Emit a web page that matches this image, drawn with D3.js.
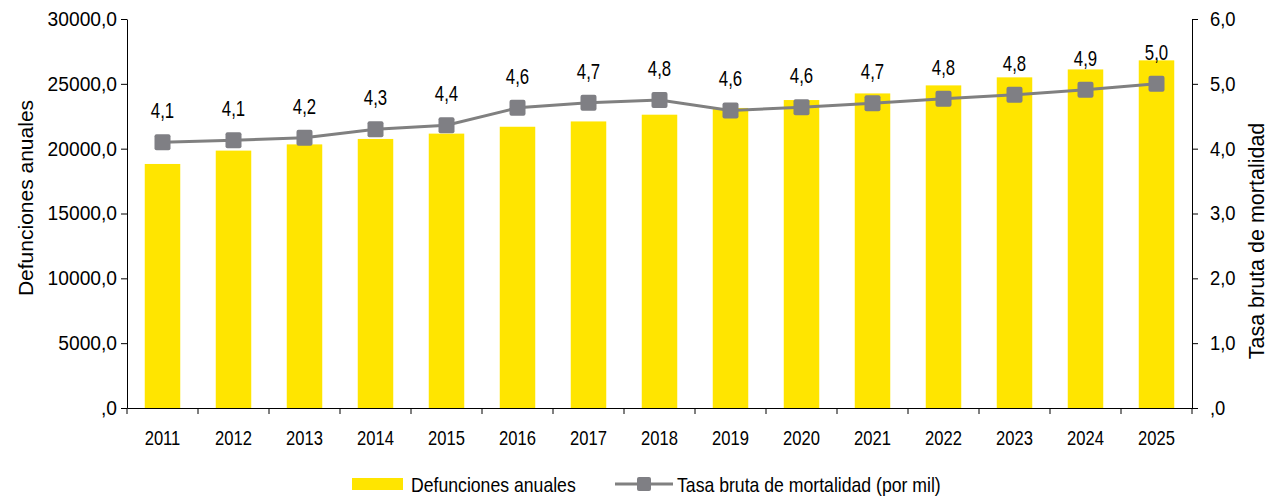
<!DOCTYPE html>
<html>
  <head>
    <meta charset="utf-8" />
    <title>Defunciones anuales</title>
    <script src="https://d3js.org/d3.v7.min.js"></script>
    <style>
        body{
            margin: 0;
            background: #fff;
        }
        text{
            font-family: "Liberation Sans", Arial, sans-serif;
            fill: #000;
        }
    </style>
  </head>
  <body>
    <svg id="vis"></svg>

    <script>
        // data
        var years = ["2011","2012","2013","2014","2015","2016","2017","2018","2019","2020","2021","2022","2023","2024","2025"];
        var deaths = [18820, 19850, 20330, 20750, 21160, 21690, 22100, 22620, 23140, 23750, 24260, 24880, 25500, 26110, 26810];
        var rate = [4.10, 4.13, 4.17, 4.30, 4.36, 4.63, 4.71, 4.75, 4.59, 4.64, 4.70, 4.77, 4.83, 4.91, 5.00];
        var leftTicks = [0, 5000, 10000, 15000, 20000, 25000, 30000];
        var rightTicks = [0, 1, 2, 3, 4, 5, 6];

        var width = 1285, height = 497;
        var margin = {top: 19, right: 93, bottom: 89, left: 127};

        var svg = d3.select("#vis").attr("width", width).attr("height", height);

        var x = d3.scaleBand().domain(years)
            .range([margin.left, width - margin.right])
            .paddingInner(0.5).paddingOuter(0.25);
        var xb = d3.scaleBand().domain(years).range([margin.left, width - margin.right]);

        var yL = d3.scaleLinear().domain([0, 30000]).range([height - margin.bottom, margin.top]);
        var yR = d3.scaleLinear().domain([0, 6]).range([height - margin.bottom, margin.top]);

        // comma decimal format, no leading zero for 0
        function fmt(v) {
            var s = v.toFixed(1).replace(".", ",");
            return v === 0 ? ",0" : s;
        }

        // squeeze text horizontally (the original uses a narrow font)
        function squeeze(sel, k) {
            sel.each(function(){
                var len = this.getComputedTextLength();
                d3.select(this).attr("textLength", len * k).attr("lengthAdjust", "spacingAndGlyphs");
            });
        }

        // bars
        svg.append("g").selectAll("rect").data(deaths).enter().append("rect")
            .attr("x", function(d, i){ return x(years[i]); })
            .attr("width", x.bandwidth())
            .attr("y", function(d){ return yL(d); })
            .attr("height", function(d){ return yL(0) - yL(d); })
            .attr("fill", "#ffe500");

        // axes
        var axL = svg.append("g").attr("transform", "translate(" + margin.left + ",0)")
            .call(d3.axisLeft(yL).tickValues(leftTicks).tickFormat(fmt).tickSizeInner(6).tickSizeOuter(0).tickPadding(4));
        var axR = svg.append("g").attr("transform", "translate(" + (width - margin.right) + ",0)")
            .call(d3.axisRight(yR).tickValues(rightTicks).tickFormat(fmt).tickSizeInner(6).tickSizeOuter(0).tickPadding(12));

        var axX = svg.append("g").attr("transform", "translate(0," + yL(0) + ")")
            .call(d3.axisBottom(xb).tickSize(0).tickPadding(22));
        // tick marks at category boundaries
        axX.selectAll(".bound").data(d3.range(years.length + 1)).enter().append("line")
            .attr("x1", function(i){ return margin.left + i * xb.step(); })
            .attr("x2", function(i){ return margin.left + i * xb.step(); })
            .attr("y1", 0).attr("y2", 6)
            .attr("stroke", "#000");

        [axL, axR, axX].forEach(function(a){
            a.selectAll("path, line").attr("stroke", "#000").attr("stroke-width", 1);
            a.selectAll("text").attr("font-size", 20).attr("fill", "#000")
                .style("font-family", "'Liberation Sans', Arial, sans-serif");
        });
        axX.selectAll("text").attr("font-size", 21);
        squeeze(axL.selectAll("text"), 0.96);
        squeeze(axR.selectAll("text"), 0.92);
        squeeze(axX.selectAll("text"), 0.79);

        // line
        var line = d3.line()
            .x(function(d, i){ return xb(years[i]) + xb.bandwidth() / 2; })
            .y(function(d){ return yR(d); });

        svg.append("path").datum(rate)
            .attr("d", line)
            .attr("fill", "none")
            .attr("stroke", "#808080")
            .attr("stroke-width", 3);

        svg.append("g").selectAll("rect").data(rate).enter().append("rect")
            .attr("x", function(d, i){ return xb(years[i]) + xb.bandwidth() / 2 - 8; })
            .attr("y", function(d){ return yR(d) - 8; })
            .attr("width", 16).attr("height", 16)
            .attr("rx", 2)
            .attr("fill", "#7f7f84");

        // value labels
        var vals = svg.append("g").selectAll("text").data(rate).enter().append("text")
            .attr("x", function(d, i){ return xb(years[i]) + xb.bandwidth() / 2; })
            .attr("y", function(d){ return yR(d) - 24; })
            .attr("text-anchor", "middle")
            .attr("font-size", 21.5)
            .text(function(d){ return fmt(Math.round(d * 10) / 10); });
        squeeze(vals, 0.78);

        // axis titles
        svg.append("text")
            .attr("transform", "translate(33,198) rotate(-90)")
            .attr("text-anchor", "middle")
            .attr("font-size", 21)
            .text("Defunciones anuales");

        svg.append("text")
            .attr("transform", "translate(1264,241) rotate(-90)")
            .attr("text-anchor", "middle")
            .attr("font-size", 21.5)
            .text("Tasa bruta de mortalidad");

        // legend
        var lg = svg.append("g");
        lg.append("rect").attr("x", 352).attr("y", 478).attr("width", 51).attr("height", 12).attr("fill", "#ffe500");
        lg.append("line").attr("x1", 615).attr("x2", 673).attr("y1", 484).attr("y2", 484)
            .attr("stroke", "#808080").attr("stroke-width", 3);
        lg.append("rect").attr("x", 637).attr("y", 477).attr("width", 14).attr("height", 14).attr("rx", 2).attr("fill", "#7f7f84");
        var lt = lg.selectAll("text").data([[411, "Defunciones anuales"], [677, "Tasa bruta de mortalidad (por mil)"]])
            .enter().append("text")
            .attr("x", function(d){ return d[0]; })
            .attr("y", 492)
            .attr("font-size", 21)
            .text(function(d){ return d[1]; });
        squeeze(lt, 0.84);
    </script>
  </body>
</html>
